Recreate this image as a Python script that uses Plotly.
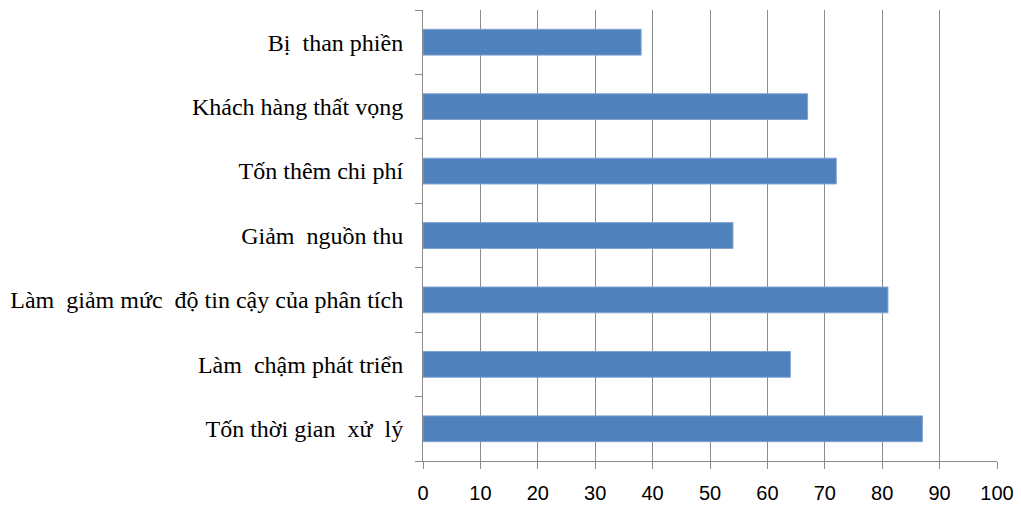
import plotly.graph_objects as go

categories = [
    "Bị  than phiền",
    "Khách hàng thất vọng",
    "Tốn thêm chi phí",
    "Giảm  nguồn thu",
    "Làm  giảm mức  độ tin cậy của phân tích",
    "Làm  chậm phát triển",
    "Tốn thời gian  xử  lý",
]
values = [38, 67, 72, 54, 81, 64, 87]
x_ticks = [0, 10, 20, 30, 40, 50, 60, 70, 80, 90, 100]

fig = go.Figure(
    go.Bar(
        y=categories,
        x=values,
        orientation="h",
        marker=dict(color="#4F81BD", line=dict(color="#7FA2D0", width=1)),
    )
)

fig.update_layout(
    width=1021,
    height=507,
    margin=dict(l=423, r=24, t=10, b=46),
    plot_bgcolor="white",
    paper_bgcolor="white",
    bargap=0.6,
    showlegend=False,
)

fig.update_xaxes(
    range=[0, 100],
    tickvals=x_ticks,
    ticktext=[str(v) for v in x_ticks],
    showgrid=True,
    gridcolor="#8C8C8C",
    gridwidth=1,
    showline=True,
    linecolor="#8C8C8C",
    linewidth=1,
    ticks="outside",
    ticklen=7,
    tickcolor="#8C8C8C",
    tickfont=dict(family="Liberation Sans", size=20, color="black"),
    ticklabelstandoff=7,
    zeroline=False,
    mirror=False,
    automargin=False,
)

fig.update_yaxes(
    categoryorder="array",
    categoryarray=categories[::-1],
    showline=True,
    linecolor="#8C8C8C",
    linewidth=1,
    ticks="outside",
    tickson="boundaries",
    ticklen=7,
    tickcolor="#8C8C8C",
    tickfont=dict(family="Liberation Serif", size=24, color="black"),
    ticklabelstandoff=14,
    showgrid=False,
    automargin=False,
)

fig.write_html("out.html")
